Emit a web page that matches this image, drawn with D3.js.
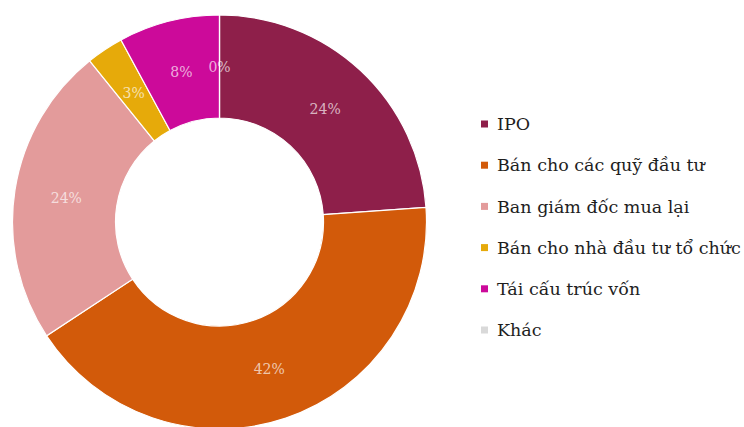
<!DOCTYPE html>
<html>
<head>
<meta charset="utf-8">
<script src="https://cdn.jsdelivr.net/npm/d3@7"></script>
<style>
  html, body { margin: 0; padding: 0; background: #fff; }
  svg { display: block; }
  .serif { font-family: "DejaVu Serif", "Liberation Serif", serif; }
</style>
</head>
<body>
<svg id="chart" width="744" height="427"></svg>
<script>
// Exit channels, shares in percent
const categories = ["IPO", "Bán cho các quỹ đầu tư", "Ban giám đốc mua lại", "Bán cho nhà đầu tư tổ chức", "Tái cấu trúc vốn", "Khác"];
const shares = [23.9, 41.9, 23.5, 2.9, 7.9, 0];
const colors = ["#8e1f4a", "#d25a0a", "#e39b9b", "#e6aa0a", "#cc0a9a", "#d9d9d9"];

const svg = d3.select("#chart");
const cx = 219.5, cy = 222, outerR = 207, innerR = 104;

const data = categories.map((c, i) => ({ name: c, value: shares[i], color: colors[i] }));

const pie = d3.pie().sort(null).value(d => d.value);
const arc = d3.arc().innerRadius(innerR).outerRadius(outerR);
const labelArc = d3.arc().innerRadius(155).outerRadius(155);

const g = svg.append("g").attr("transform", `translate(${cx},${cy})`);
const arcs = pie(data);

g.selectAll("path.slice")
  .data(arcs)
  .join("path")
  .attr("class", "slice")
  .attr("d", arc)
  .attr("fill", d => d.data.color)
  .attr("stroke", "#fff")
  .attr("stroke-width", 1.2);

const fmt = v => Math.round(v) + "%";
g.selectAll("text.lbl")
  .data(arcs)
  .join("text")
  .attr("class", "lbl serif")
  .attr("transform", d => `translate(${labelArc.centroid(d)})`)
  .attr("text-anchor", "middle")
  .attr("dy", "0.35em")
  .attr("font-size", 14)
  .attr("fill", "#fff")
  .attr("fill-opacity", 0.68)
  .text(d => fmt(d.data.value));

// Legend
const legend = svg.append("g").attr("transform", "translate(481,124)");
const rowH = 41.2;
const item = legend.selectAll("g.item")
  .data(data)
  .join("g")
  .attr("class", "item")
  .attr("transform", (d, i) => `translate(0,${i * rowH})`);

item.append("rect")
  .attr("x", 0).attr("y", -3.5)
  .attr("width", 7).attr("height", 7)
  .attr("fill", d => d.color);

item.append("text")
  .attr("class", "serif")
  .attr("x", 16)
  .attr("y", 0)
  .attr("dy", "0.35em")
  .attr("font-size", 17.5)
  .attr("fill", "#1e1e1e")
  .text(d => d.name);
</script>
</body>
</html>
